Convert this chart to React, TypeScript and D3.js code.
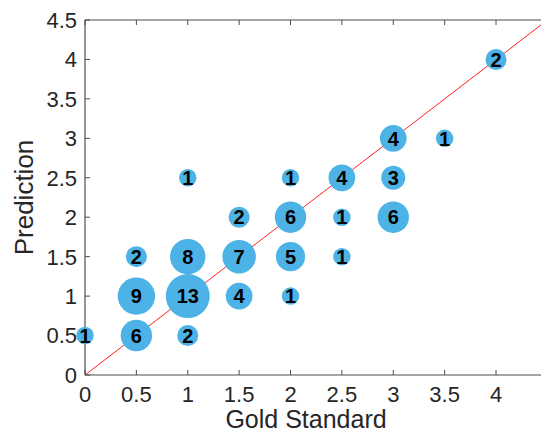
import React from "react";
import * as d3 from "d3";

const goldX = [0, 0.5, 0.5, 0.5, 1, 1, 1, 1, 1.5, 1.5, 1.5, 2, 2, 2, 2, 2.5, 2.5, 2.5, 3, 3, 3, 3.5, 4];
const predY = [0.5, 0.5, 1, 1.5, 0.5, 1, 1.5, 2.5, 1, 1.5, 2, 1, 1.5, 2, 2.5, 1.5, 2, 2.5, 2, 2.5, 3, 3, 4];
const counts = [1, 6, 9, 2, 2, 13, 8, 1, 4, 7, 2, 1, 5, 6, 1, 1, 1, 4, 6, 3, 4, 1, 2];
const xTicks = [0, 0.5, 1, 1.5, 2, 2.5, 3, 3.5, 4];
const yTicks = [0, 0.5, 1, 1.5, 2, 2.5, 3, 3.5, 4, 4.5];
const xTickLabels = ["0", "0.5", "1", "1.5", "2", "2.5", "3", "3.5", "4"];
const yTickLabels = ["0", "0.5", "1", "1.5", "2", "2.5", "3", "3.5", "4", "4.5"];

const W = 541;
const H = 433;
const left = 85;
const right = 547.4;
const top = 20;
const bottom = 375;

export default function App() {
  const x = d3.scaleLinear().domain([0, 4.5]).range([left, right]);
  const y = d3.scaleLinear().domain([0, 4.5]).range([bottom, top]);
  const r = (n: number) => Math.sqrt(42.5 + 34 * n);
  const line = d3.line<number>().x((d) => x(d)).y((d) => y(d));
  const axisColor = "#4d4d4d";
  const textColor = "#262626";
  const font = "'Liberation Sans', Arial, Helvetica, sans-serif";
  const pts = counts.map((c, i) => ({ gx: goldX[i], py: predY[i], c }));
  return (
    <div style={{ position: "absolute", left: 0, top: 0 }}>
      <svg width={W} height={H} style={{ display: "block", background: "#fff" }}>
        <path d={line([0, 4.5]) || ""} stroke="#ff2020" strokeWidth={1} fill="none" />
        <line x1={left} y1={top} x2={left} y2={bottom} stroke={axisColor} strokeWidth={1.2} />
        <line x1={left} y1={bottom} x2={W} y2={bottom} stroke={axisColor} strokeWidth={1.2} />
        <line x1={left} y1={top} x2={W} y2={top} stroke={axisColor} strokeWidth={1.2} />
        {xTicks.map((t) => (
          <g key={"xt" + t}>
            <line x1={x(t)} x2={x(t)} y1={bottom} y2={bottom - 5} stroke={axisColor} />
            <line x1={x(t)} x2={x(t)} y1={top} y2={top + 5} stroke={axisColor} />
          </g>
        ))}
        {yTicks.map((t) => (
          <line key={"yt" + t} x1={left} x2={left + 5} y1={y(t)} y2={y(t)} stroke={axisColor} />
        ))}
        {pts.map((p, i) => (
          <circle key={"c" + i} cx={x(p.gx)} cy={y(p.py)} r={r(p.c)} fill="#4db3e6" />
        ))}
        {pts.map((p, i) => (
          <text
            key={"t" + i}
            x={x(p.gx)}
            y={y(p.py)}
            dy="0.36em"
            textAnchor="middle"
            fontFamily={font}
            fontWeight="bold"
            fontSize={20}
            fill="#000"
          >
            {p.c}
          </text>
        ))}
        {xTicks.map((t, i) => (
          <text key={"xl" + t} x={x(t)} y={402} textAnchor="middle" fontFamily={font} fontSize={22} fill={textColor}>
            {xTickLabels[i]}
          </text>
        ))}
        {yTicks.map((t, i) => (
          <text key={"yl" + t} x={77} y={y(t)} dy="0.36em" textAnchor="end" fontFamily={font} fontSize={22} fill={textColor}>
            {yTickLabels[i]}
          </text>
        ))}
        <text x={306} y={428} textAnchor="middle" fontFamily={font} fontSize={25} fill={textColor}>
          Gold Standard
        </text>
        <text
          transform={`translate(33, ${(top + bottom) / 2}) rotate(-90)`}
          textAnchor="middle"
          fontFamily={font}
          fontSize={26}
          fill={textColor}
        >
          Prediction
        </text>
      </svg>
    </div>
  );
}
